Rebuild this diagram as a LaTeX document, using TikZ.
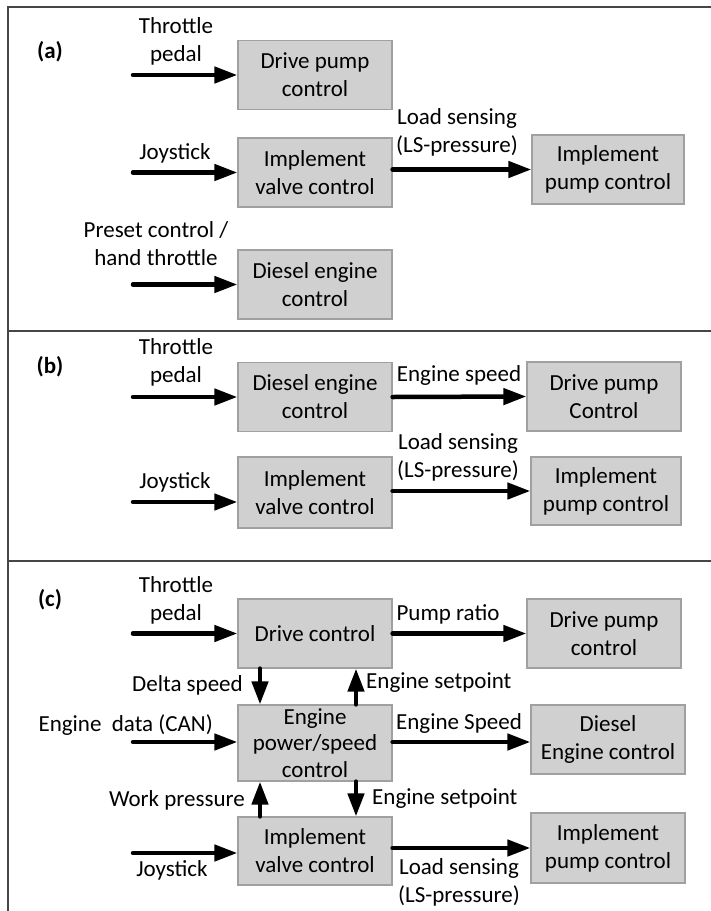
\documentclass[tikz,border=0pt]{standalone}
\usepackage{fontspec}
\setmainfont{Carlito}
\usetikzlibrary{arrows.meta}
\definecolor{boxfill}{RGB}{208,208,208}
\definecolor{boxline}{RGB}{160,160,160}
\definecolor{frameline}{RGB}{70,70,70}
\begin{document}
\begin{tikzpicture}[x=1pt,y=-1pt,
  font=\fontsize{23}{28}\selectfont,
  blk/.style={draw=boxline, line width=1.2pt, fill=boxfill, minimum width=154pt,
    minimum height=69pt, align=center, inner sep=0pt},
  lbl/.style={align=center, inner sep=0pt},
  flow/.style={line width=4.5pt, line cap=round, -{Triangle[length=23pt,width=16pt]}},
  tag/.style={font=\fontsize{23}{28}\selectfont\bfseries, inner sep=0pt},
  rule/.style={draw=frameline, line width=1.5pt}]
\useasboundingbox (0,0) rectangle (711,911);

% frame and section dividers
\draw[rule] (8,920) -- (8,7) -- (720,7);
\draw[rule] (8,331) -- (720,331);
\draw[rule] (8,561) -- (720,561);

% ---------- (a) ----------
\node[tag] (ta) at (50,52) {(a)};
\node[blk] (a1) at (315,75) {Drive pump\\control};
\node[blk] (a2) at (315,172.5) {Implement\\valve control};
\node[blk, minimum width=152pt] (a3) at (608,169.5) {Implement\\pump control};
\node[blk] (a4) at (315,284.5) {Diesel engine\\control};
\node[lbl] (la1) at (176,41) {Throttle\\pedal};
\node[lbl] (la2) at (175,153) {Joystick};
\node[lbl] (la3) at (457,132) {Load sensing\\(LS-pressure)};
\node[lbl] (la4) at (156,244) {Preset control /\\hand throttle};
\coordinate (ia1) at (133,75);
\coordinate (ia2) at (133,172.5);
\coordinate (ia4) at (133,284.5);
\draw[flow] (ia1) -- (a1.west);
\draw[flow] (ia2) -- (a2.west);
\draw[flow] (ia4) -- (a4.west);
\draw[flow] (a2.east |- a3.west) -- (a3.west);

% ---------- (b) ----------
\node[tag] (tb) at (50,367) {(b)};
\node[blk] (b1) at (315,397) {Diesel engine\\control};
\node[blk] (b2) at (604,396.5) {Drive pump\\Control};
\node[blk, minimum height=71pt] (b3) at (315,492.5) {Implement\\valve control};
\node[blk, minimum width=150pt, minimum height=68pt] (b4) at (606,491) {Implement\\pump control};
\node[lbl] (lb1) at (176,362) {Throttle\\pedal};
\node[lbl] (lb2) at (459,375) {Engine speed};
\node[lbl] (lb3) at (175,482) {Joystick};
\node[lbl] (lb4) at (458,457) {Load sensing\\(LS-pressure)};
\coordinate (ib1) at (133,397);
\coordinate (ib3) at (133,502);
\draw[flow] (ib1) -- (b1.west);
\draw[flow] (b1.east) -- (b2.west);
\draw[flow] (ib3) -- (ib3 -| b3.west);
\draw[flow] (b3.east |- b4.west) -- (b4.west);

% ---------- (c) ----------
\node[tag] (tc) at (50,600) {(c)};
\node[blk] (c1) at (315,633.5) {Drive control};
\node[blk] (c2) at (604,633.5) {Drive pump\\control};
\node[blk, minimum height=76pt, font=\fontsize{23}{26.5}\selectfont] (c3) at (315,743) {Engine\\power/speed\\control};
\node[blk] (c4) at (608,739.5) {Diesel\\Engine control};
\node[blk, minimum height=68pt] (c5) at (315,851) {Implement\\valve control};
\node[blk, minimum height=70pt] (c6) at (608,848) {Implement\\pump control};
\node[lbl] (lc1) at (176,600) {Throttle\\pedal};
\node[lbl] (lc2) at (448,614) {Pump ratio};
\node[lbl, anchor=east] (lc3) at (243,685) {Delta speed};
\node[lbl, anchor=west] (lc4) at (366,683) {Engine setpoint};
\node[lbl, anchor=east] (lc5) at (213,725) {Engine\ \ data (CAN)};
\node[lbl] (lc6) at (459,723) {Engine Speed};
\node[lbl, anchor=east] (lc7) at (245,800) {Work pressure};
\node[lbl, anchor=west] (lc8) at (372,799) {Engine setpoint};
\node[lbl] (lc9) at (172,870) {Joystick};
\node[lbl] (lc10) at (459,882) {Load sensing\\(LS-pressure)};
\coordinate (ic1) at (133,633.5);
\coordinate (ic3) at (133,742);
\coordinate (ic5) at (133,853);
\coordinate (vl) at (260,0);
\coordinate (vr) at (356,0);
\draw[flow] (ic1) -- (c1.west);
\draw[flow] (c1.east) -- (c2.west);
\draw[flow] (ic3) -- (ic3 -| c3.west);
\draw[flow] (ic3 -| c3.east) -- (ic3 -| c4.west);
\draw[flow] (ic5) -- (ic5 -| c5.west);
\draw[flow] (c5.east |- c6.west) -- (c6.west);
\draw[flow] (vl |- c1.south) -- (vl |- c3.north);
\draw[flow] (vr |- c3.north) -- (vr |- c1.south);
\draw[flow] (vl |- c5.north) -- (vl |- c3.south);
\draw[flow] (vr |- c3.south) -- (vr |- c5.north);
\end{tikzpicture}
\end{document}
